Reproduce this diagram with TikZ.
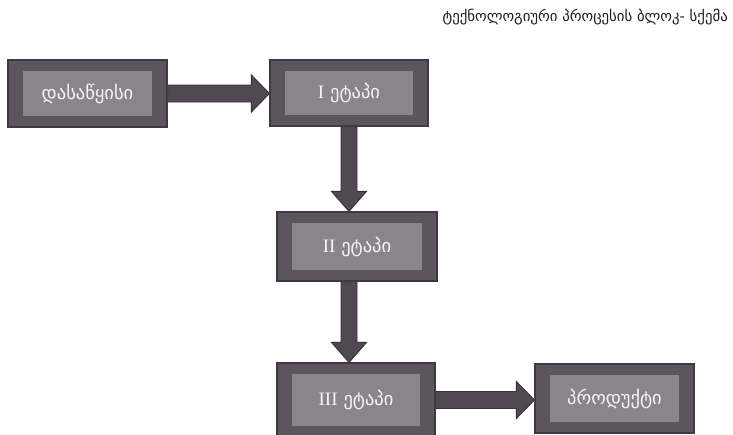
\documentclass[tikz,border=0pt]{standalone}
\usepackage{fontspec}
\setmainfont{DejaVu Sans}
\newfontfamily\numfont{Liberation Serif}
\usetikzlibrary{calc,backgrounds}

\definecolor{boxouter}{RGB}{94,84,95}
\definecolor{boxedge}{RGB}{64,56,66}
\definecolor{boxinner}{RGB}{140,131,143}
\definecolor{arrowfill}{RGB}{82,72,83}
\definecolor{arrowedge}{RGB}{55,48,57}
\definecolor{titleink}{RGB}{30,28,30}
\definecolor{labelink}{RGB}{246,244,246}

\newcommand\stagenum[1]{{\numfont\fontsize{19}{21}\selectfont #1}}

\tikzset{
  stage/.style={
    draw=boxedge, line width=1.2pt, fill=boxouter,
    minimum width=#1, inner sep=0pt,
    text=labelink, font=\fontsize{18.5}{20}\selectfont,
    path picture={
      \fill[boxinner]
        ([shift={(15pt,-11pt)}]path picture bounding box.north west)
        rectangle
        ([shift={(-15pt,11pt)}]path picture bounding box.south east);
    }
  },
  stage/.default=158pt,
  blockarrow/.style={fill=arrowfill, draw=arrowedge, line width=0.9pt, line join=miter},
  heading/.style={font=\fontsize{14.8}{17}\selectfont, text=titleink, inner sep=0pt}
}

% horizontal block arrow: #1 start (left), #2 tip (right)
\newcommand\arrowright[2]{%
  \path[blockarrow] let \p1=(#1), \p2=(#2) in
    (\x1,\y1+8.5pt) -- (\x2-18pt,\y1+8.5pt) -- (\x2-18pt,\y1+18.5pt) --
    (\x2,\y1) --
    (\x2-18pt,\y1-18.5pt) -- (\x2-18pt,\y1-8.5pt) -- (\x1,\y1-8.5pt) -- cycle;}
% vertical block arrow: #1 start (top), #2 tip (bottom)
\newcommand\arrowdown[2]{%
  \path[blockarrow] let \p1=(#1), \p2=(#2) in
    (\x1-8pt,\y1) -- (\x1-8pt,\y2+20pt) -- (\x1-17.5pt,\y2+20pt) --
    (\x1,\y2) --
    (\x1+17.5pt,\y2+20pt) -- (\x1+8pt,\y2+20pt) -- (\x1+8pt,\y1) -- cycle;}

\begin{document}
\begin{tikzpicture}[x=1pt,y=-1pt]
  \clip (0,0) rectangle (733,434);

  \node[heading, anchor=east] (title) at (728,17)
    {ტექნოლოგიური პროცესის ბლოკ- სქემა};

  \node[stage=159pt, minimum height=67pt] (start) at (87.5,93.5) {დასაწყისი};
  \node[stage=158pt, minimum height=66pt] (s1) at (349,93) {\stagenum{I} ეტაპი};
  \node[stage=160pt, minimum height=69pt] (s2) at (357,246.5) {\stagenum{II} ეტაპი};
  \node[stage=158pt, minimum height=74pt] (s3) at (356,400) {\stagenum{III} ეტაპი};
  \node[stage=159pt, minimum height=69pt] (prod) at (614.5,398.5) {პროდუქტი};

  \begin{scope}[on background layer]
    \fill[white] (0,0) rectangle (733,434);
    \arrowright{start.east}{s1.west |- start.east}
    \arrowdown{s1.south}{s1.south |- s2.north}
    \arrowdown{s1.south |- s2.south}{s1.south |- s3.north}
    \arrowright{s3.east}{prod.west |- s3.east}
  \end{scope}
\end{tikzpicture}
\end{document}
